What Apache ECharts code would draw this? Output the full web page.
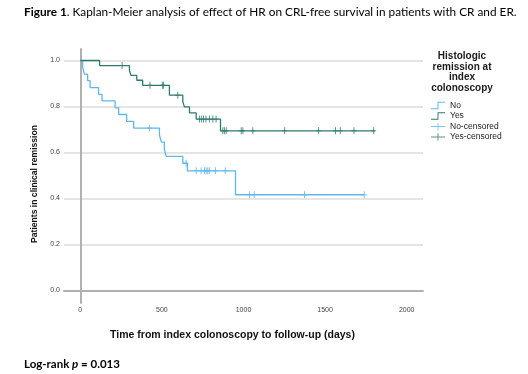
<!DOCTYPE html>
<html><head><meta charset="utf-8">
<script src="https://cdn.jsdelivr.net/npm/echarts@6/dist/echarts.min.js"></script>
<style>html,body{margin:0;padding:0;background:#fff}#c{width:528px;height:374px}</style>
</head><body><div id="c"></div>
<script>
// Kaplan-Meier step data (time in days, survival after step)
const noTimes = [0, 14, 25, 45, 60, 112, 133, 213, 235, 284, 327, 485, 497, 515, 526, 628, 656, 951];
const noSurv  = [1.0, 0.971, 0.941, 0.912, 0.882, 0.853, 0.824, 0.794, 0.765, 0.735, 0.706, 0.675, 0.645, 0.614, 0.583, 0.553, 0.520, 0.416];
const noEnd = 1740;
const noCensor = [423, 648, 710, 740, 761, 771, 781, 791, 828, 888, 1037, 1066, 1374, 1740];

const yesTimes = [0, 118, 301, 310, 346, 382, 546, 628, 638, 669, 710, 859];
const yesSurv  = [1.0, 0.978, 0.957, 0.935, 0.914, 0.892, 0.849, 0.821, 0.798, 0.772, 0.745, 0.694];
const yesEnd = 1804;
const yesCensor = [256, 427, 503, 510, 597, 730, 742, 755, 770, 791, 812, 832, 873, 883, 894, 986, 996, 1057, 1252, 1460, 1564, 1593, 1677, 1798];

const xTicks = [0, 500, 1000, 1500, 2000];
const yTicks = [0.0, 0.2, 0.4, 0.6, 0.8, 1.0];

const NO_C = '#5fb7ee';
const YES_C = '#2f7a6e';

function survAt(times, surv, t) {
  let s = surv[0];
  for (let i = 0; i < times.length; i++) { if (times[i] <= t) s = surv[i]; }
  return s;
}
function stepData(times, surv, end) {
  const d = times.map((t, i) => [t, surv[i]]);
  d.push([end, surv[surv.length - 1]]);
  return d;
}
function censorData(times, surv, cens) {
  return cens.map(t => [t, survAt(times, surv, t)]);
}

const stepIcon = 'path://M0,7 h7 v-7 h8 v1 h-7 v7 h-8 z';
const plusIcon = 'path://M0,3.5 h15 v1 h-15 z M7,0 h1 v8 h-1 z';
const plusSym = 'path://M4,0 h2 v5.2 h4 v1.6 h-4 v5.2 h-2 v-5.2 h-4 v-1.6 h4 z';

const chart = echarts.init(document.getElementById('c'), null, {renderer: 'canvas'});
const AX = 'Liberation Sans';
chart.setOption({
  animation: false,
  backgroundColor: '#fff',
  title: [
    {
      text: '{b|Figure 1}. Kaplan-Meier analysis of effect of HR on CRL-free survival in patients with CR and ER.',
      left: 19, top: 1,
      textStyle: {fontFamily: 'Lato', fontSize: 11.8, fontWeight: 'normal', color: '#000',
        rich: {b: {fontFamily: 'Lato', fontSize: 11.8, fontWeight: 'bold', color: '#000'}}}
    },
    {
      text: 'Log-rank {i|p} = 0.013',
      left: 19, top: 353,
      textStyle: {fontFamily: 'Lato', fontSize: 11.5, fontWeight: 'bold', color: '#000',
        rich: {i: {fontFamily: 'Lato', fontSize: 11.5, fontWeight: 'bold', fontStyle: 'italic', color: '#000'}}}
    }
  ],
  graphic: [
    {type: 'text', x: 462, y: 51,
     style: {text: 'Histologic\nremission at\nindex\ncolonoscopy', align: 'center',
       font: 'bold 10px "Liberation Sans"', lineHeight: 10.6, fill: '#1a1a1a'}}
  ],
  grid: {left: 64, right: 105, top: 49, bottom: 71, containLabel: false},
  legend: {
    orient: 'vertical', left: 426, top: 96,
    itemWidth: 14, itemHeight: 8, itemGap: 1.5,
    textStyle: {fontFamily: AX, fontSize: 8.5, color: '#222'},
    data: [
      {name: 'No', icon: stepIcon},
      {name: 'Yes', icon: stepIcon},
      {name: 'No-censored', icon: plusIcon},
      {name: 'Yes-censored', icon: plusIcon}
    ]
  },
  xAxis: {
    type: 'value', min: -100, max: 2100, splitNumber: 4,
    name: 'Time from index colonoscopy to follow-up (days)',
    nameLocation: 'middle', nameGap: 27,
    nameTextStyle: {fontFamily: AX, fontSize: 10.5, fontWeight: 'bold', color: '#111', padding: [0, 22, 0, 0]},
    axisLine: {show: true, lineStyle: {color: '#b0b0b0', width: 2}},
    axisTick: {show: false},
    axisLabel: {fontFamily: AX, fontSize: 7, color: '#444', margin: 4, showMinLabel: false, showMaxLabel: false,
      formatter: v => xTicks.indexOf(Math.round(v)) >= 0 && Math.abs(v - Math.round(v)) < 1e-6 ? String(Math.round(v)) : ''},
    splitLine: {show: false}
  },
  yAxis: {
    type: 'value', min: -0.055, max: 1.05, splitNumber: 5,
    name: 'Patients in clinical remission',
    nameLocation: 'middle', nameGap: 22, nameRotate: 90,
    nameTextStyle: {fontFamily: AX, fontSize: 8.6, fontWeight: 'bold', color: '#111', padding: [0, 16, 0, 0]},
    axisLine: {show: true, lineStyle: {color: '#b0b0b0', width: 2}},
    axisTick: {show: false},
    axisLabel: {fontFamily: AX, fontSize: 7, color: '#444', margin: 4, showMinLabel: false, showMaxLabel: false,
      formatter: v => {
        const k = yTicks.findIndex(t => Math.abs(t - v) < 1e-6);
        return k >= 0 ? yTicks[k].toFixed(1) : '';
      }},
    splitLine: {show: true, showMinLine: false, showMaxLine: false, lineStyle: {color: '#dcdcdc', width: 1.5}}
  },
  series: [
    {name: 'No', type: 'line', step: 'end', data: stepData(noTimes, noSurv, noEnd),
     showSymbol: false, symbol: 'none', itemStyle: {color: NO_C}, lineStyle: {color: NO_C, width: 1.3}, z: 3},
    {name: 'Yes', type: 'line', step: 'end', data: stepData(yesTimes, yesSurv, yesEnd),
     showSymbol: false, symbol: 'none', itemStyle: {color: YES_C}, lineStyle: {color: YES_C, width: 1.3}, z: 3},
    {name: 'No-censored', type: 'scatter', data: censorData(noTimes, noSurv, noCensor),
     symbol: plusSym, symbolSize: [5, 7], itemStyle: {color: NO_C}, z: 4},
    {name: 'Yes-censored', type: 'scatter', data: censorData(yesTimes, yesSurv, yesCensor),
     symbol: plusSym, symbolSize: [5, 7], itemStyle: {color: YES_C}, z: 4}
  ]
});
</script>
</body></html>
